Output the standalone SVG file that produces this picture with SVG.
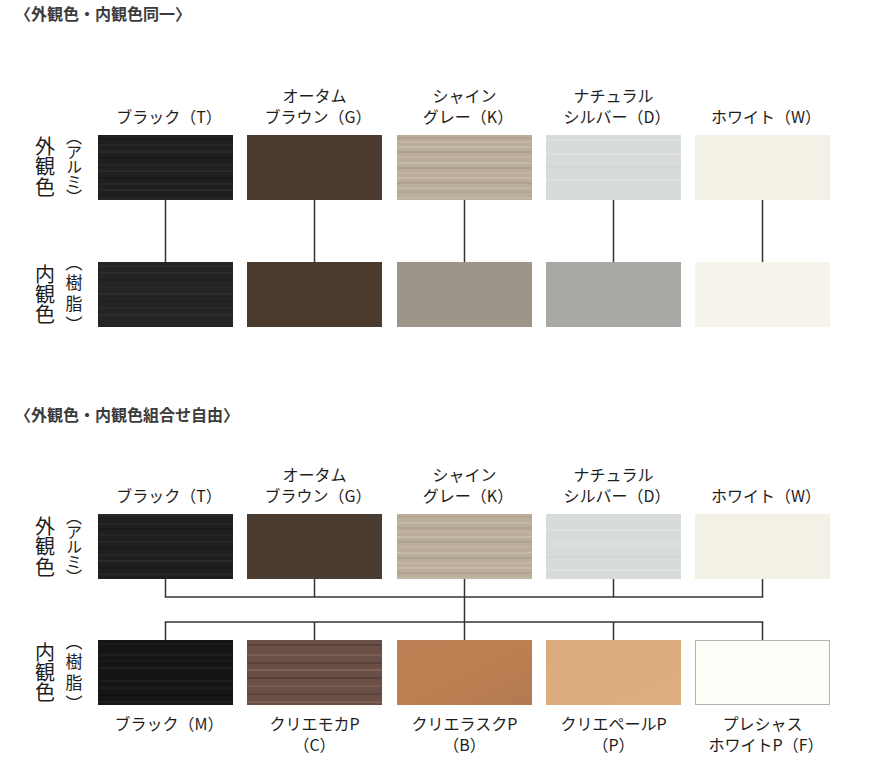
<svg xmlns="http://www.w3.org/2000/svg" width="872" height="778" viewBox="0 0 872 778">
<style>
text{font-family:"Noto Sans CJK JP","Noto Sans",sans-serif;fill:#1e1e1e}
.h{font-size:16px;font-weight:700;fill:#3c3c3c}
.lb{font-size:16px;text-anchor:middle}
.side{font-size:20px;writing-mode:vertical-rl;letter-spacing:0.5px}
.sub{font-size:16px;writing-mode:vertical-rl;font-feature-settings:"vpal"}
.sub2{font-size:17px;writing-mode:vertical-rl;font-feature-settings:"vpal";letter-spacing:4px}
.conn line{stroke:#333;stroke-width:1.5}
</style>
<defs>
<pattern id="pBlack" patternUnits="userSpaceOnUse" width="135" height="65">
<rect width="135" height="65" fill="#1e1f1f"/>
<g stroke-width="1">
<line x1="0" y1="4" x2="135" y2="4" stroke="#2e2f2f"/>
<line x1="0" y1="9" x2="135" y2="9" stroke="#141515"/>
<line x1="0" y1="15" x2="135" y2="15" stroke="#2a2b2b"/>
<line x1="0" y1="22" x2="135" y2="22" stroke="#303131"/>
<line x1="0" y1="28" x2="135" y2="28" stroke="#151616"/>
<line x1="0" y1="35" x2="135" y2="35" stroke="#2b2c2c"/>
<line x1="0" y1="41" x2="135" y2="41" stroke="#323333"/>
<line x1="0" y1="48" x2="135" y2="48" stroke="#141515"/>
<line x1="0" y1="54" x2="135" y2="54" stroke="#2c2d2d"/>
<line x1="0" y1="60" x2="135" y2="60" stroke="#2f3030"/>
</g>
</pattern>
<pattern id="pBlackI" patternUnits="userSpaceOnUse" width="135" height="65">
<rect width="135" height="65" fill="#232424"/>
<g stroke-width="1">
<line x1="0" y1="6" x2="135" y2="6" stroke="#2e2f2f"/>
<line x1="0" y1="13" x2="135" y2="13" stroke="#303131"/>
<line x1="0" y1="20" x2="135" y2="20" stroke="#1a1b1b"/>
<line x1="0" y1="27" x2="135" y2="27" stroke="#2d2e2e"/>
<line x1="0" y1="34" x2="135" y2="34" stroke="#303131"/>
<line x1="0" y1="41" x2="135" y2="41" stroke="#1a1b1b"/>
<line x1="0" y1="48" x2="135" y2="48" stroke="#2d2e2e"/>
<line x1="0" y1="55" x2="135" y2="55" stroke="#303131"/>
</g>
</pattern>
<pattern id="pBlackM" patternUnits="userSpaceOnUse" width="135" height="65">
<rect width="135" height="65" fill="#141515"/>
<g stroke-width="1">
<line x1="0" y1="5" x2="135" y2="5" stroke="#242525"/>
<line x1="0" y1="11" x2="135" y2="11" stroke="#1e1f1f"/>
<line x1="0" y1="18" x2="135" y2="18" stroke="#262727"/>
<line x1="0" y1="25" x2="135" y2="25" stroke="#0e0f0f"/>
<line x1="0" y1="31" x2="135" y2="31" stroke="#232424"/>
<line x1="0" y1="38" x2="135" y2="38" stroke="#262727"/>
<line x1="0" y1="45" x2="135" y2="45" stroke="#0e0f0f"/>
<line x1="0" y1="52" x2="135" y2="52" stroke="#242525"/>
<line x1="0" y1="59" x2="135" y2="59" stroke="#1f2020"/>
</g>
</pattern>
<pattern id="pGray" patternUnits="userSpaceOnUse" width="135" height="65">
<rect width="135" height="65" fill="#baad9a"/>
<g stroke-width="1">
<line x1="0" y1="3" x2="135" y2="3" stroke="#cdc1b0"/>
<line x1="0" y1="8" x2="135" y2="8" stroke="#a59784"/>
<line x1="0" y1="12" x2="135" y2="12" stroke="#c9bdab"/>
<line x1="0" y1="17" x2="135" y2="17" stroke="#d2c7b6"/>
<line x1="0" y1="22" x2="135" y2="22" stroke="#a39581"/>
<line x1="0" y1="27" x2="135" y2="27" stroke="#c8bcaa"/>
<line x1="0" y1="33" x2="135" y2="33" stroke="#d0c5b4"/>
<line x1="0" y1="38" x2="135" y2="38" stroke="#9f917d"/>
<line x1="0" y1="43" x2="135" y2="43" stroke="#c9bdab"/>
<line x1="0" y1="48" x2="135" y2="48" stroke="#d3c8b8"/>
<line x1="0" y1="53" x2="135" y2="53" stroke="#a69885"/>
<line x1="0" y1="58" x2="135" y2="58" stroke="#cbbfae"/>
<line x1="0" y1="62" x2="135" y2="62" stroke="#ab9d8a"/>
</g>
</pattern>
<pattern id="pSilver" patternUnits="userSpaceOnUse" width="135" height="65">
<rect width="135" height="65" fill="#d8dbdc"/>
<g stroke-width="1">
<line x1="0" y1="10" x2="135" y2="10" stroke="#e3e5e6"/>
<line x1="0" y1="24" x2="135" y2="24" stroke="#e2e4e5"/>
<line x1="0" y1="37" x2="135" y2="37" stroke="#ced1d2"/>
<line x1="0" y1="50" x2="135" y2="50" stroke="#e3e5e6"/>
</g>
</pattern>
<pattern id="pMocha" patternUnits="userSpaceOnUse" width="135" height="65">
<rect width="135" height="65" fill="#6a4f47"/>
<g stroke-width="2">
<line x1="0" y1="5" x2="135" y2="5" stroke="#7a5e55"/>
<line x1="0" y1="13" x2="135" y2="13" stroke="#5c423a"/>
<line x1="0" y1="20" x2="135" y2="20" stroke="#7d6158"/>
<line x1="0" y1="28" x2="135" y2="28" stroke="#5a4038"/>
<line x1="0" y1="36" x2="135" y2="36" stroke="#785c53"/>
<line x1="0" y1="44" x2="135" y2="44" stroke="#5d433b"/>
<line x1="0" y1="52" x2="135" y2="52" stroke="#7b5f56"/>
<line x1="0" y1="60" x2="135" y2="60" stroke="#5b4139"/>
</g>
</pattern>
<linearGradient id="gRusk" x1="0" y1="0" x2="1" y2="1">
<stop offset="0" stop-color="#bb8155"/>
<stop offset="0.5" stop-color="#bd7f50"/>
<stop offset="1" stop-color="#b27a52"/>
</linearGradient>
<linearGradient id="gPale" x1="0" y1="0" x2="1" y2="1">
<stop offset="0" stop-color="#d9ab7d"/>
<stop offset="1" stop-color="#dcae80"/>
</linearGradient>
</defs>

<text class="h" x="15" y="20">〈外観色・内観色同一〉</text>
<text class="h" x="15" y="421">〈外観色・内観色組合せ自由〉</text>

<g id="side-labels">
<text class="side" x="45" y="136">外観色</text>
<text class="sub" x="74" y="136">（アルミ）</text>
<text class="side" x="45" y="264" style="letter-spacing:0">内観色</text>
<text class="sub2" x="74" y="262">（樹脂）</text>

<text class="side" x="45" y="516">外観色</text>
<text class="sub" x="74" y="516">（アルミ）</text>
<text class="side" x="45" y="642" style="letter-spacing:0">内観色</text>
<text class="sub2" x="74" y="641">（樹脂）</text>
</g>

<g class="conn" id="connectors">
<line x1="165.5" y1="200" x2="165.5" y2="262"/>
<line x1="314.5" y1="200" x2="314.5" y2="262"/>
<line x1="464.5" y1="200" x2="464.5" y2="262"/>
<line x1="613.5" y1="200" x2="613.5" y2="262"/>
<line x1="762.5" y1="200" x2="762.5" y2="262"/>

<line x1="165.5" y1="579" x2="165.5" y2="597"/>
<line x1="314.5" y1="579" x2="314.5" y2="597"/>
<line x1="613.5" y1="579" x2="613.5" y2="597"/>
<line x1="762.5" y1="579" x2="762.5" y2="597"/>
<line x1="164.75" y1="597" x2="763.25" y2="597"/>
<line x1="464.5" y1="579" x2="464.5" y2="640"/>
<line x1="164.75" y1="622" x2="763.25" y2="622"/>
<line x1="165.5" y1="622" x2="165.5" y2="640"/>
<line x1="314.5" y1="622" x2="314.5" y2="640"/>
<line x1="613.5" y1="622" x2="613.5" y2="640"/>
<line x1="762.5" y1="622" x2="762.5" y2="640"/>
</g>

<!-- Section 1 -->
<g id="s1-black">
<text class="lb" x="169" y="123">ブラック（T）</text>
<rect x="98" y="135" width="135" height="65" fill="url(#pBlack)"/>
<rect x="98" y="262" width="135" height="65" fill="url(#pBlackI)"/>
</g>
<g id="s1-autumn">
<text class="lb"><tspan x="314.5" y="102">オータム</tspan><tspan x="318" y="123">ブラウン（G）</tspan></text>
<rect x="247" y="135" width="135" height="65" fill="#4a3a2f"/>
<rect x="247" y="262" width="135" height="65" fill="#4b3b2f"/>
</g>
<g id="s1-shine">
<text class="lb"><tspan x="464.5" y="102">シャイン</tspan><tspan x="468" y="123">グレー（K）</tspan></text>
<rect x="397" y="135" width="135" height="65" fill="url(#pGray)"/>
<rect x="397" y="262" width="135" height="65" fill="#9d9589"/>
</g>
<g id="s1-silver">
<text class="lb"><tspan x="613.5" y="102">ナチュラル</tspan><tspan x="617" y="123">シルバー（D）</tspan></text>
<rect x="546" y="135" width="135" height="65" fill="url(#pSilver)"/>
<rect x="546" y="262" width="135" height="65" fill="#a9a8a5"/>
</g>
<g id="s1-white">
<text class="lb" x="766" y="123">ホワイト（W）</text>
<rect x="695" y="135" width="135" height="65" fill="#f3f0e5"/>
<rect x="695" y="262" width="135" height="65" fill="#f5f3ea"/>
</g>

<!-- Section 2 exterior -->
<g id="s2-ext-black">
<text class="lb" x="169" y="502">ブラック（T）</text>
<rect x="98" y="514" width="135" height="65" fill="url(#pBlack)"/>
</g>
<g id="s2-ext-autumn">
<text class="lb"><tspan x="314.5" y="481">オータム</tspan><tspan x="318" y="502">ブラウン（G）</tspan></text>
<rect x="247" y="514" width="135" height="65" fill="#4b3c31"/>
</g>
<g id="s2-ext-shine">
<text class="lb"><tspan x="464.5" y="481">シャイン</tspan><tspan x="468" y="502">グレー（K）</tspan></text>
<rect x="397" y="514" width="135" height="65" fill="url(#pGray)"/>
</g>
<g id="s2-ext-silver">
<text class="lb"><tspan x="613.5" y="481">ナチュラル</tspan><tspan x="617" y="502">シルバー（D）</tspan></text>
<rect x="546" y="514" width="135" height="65" fill="url(#pSilver)"/>
</g>
<g id="s2-ext-white">
<text class="lb" x="766" y="502">ホワイト（W）</text>
<rect x="695" y="514" width="135" height="65" fill="#f3f0e5"/>
</g>

<!-- Section 2 interior -->
<g id="s2-int-black">
<rect x="98" y="640" width="135" height="65" fill="url(#pBlackM)"/>
<text class="lb" x="169" y="730">ブラック（M）</text>
</g>
<g id="s2-int-mocha">
<rect x="247" y="640" width="135" height="65" fill="url(#pMocha)"/>
<text class="lb"><tspan x="314.5" y="730">クリエモカP</tspan><tspan x="314.5" y="751">（C）</tspan></text>
</g>
<g id="s2-int-rusk">
<rect x="397" y="640" width="135" height="65" fill="url(#gRusk)"/>
<text class="lb"><tspan x="464.5" y="730">クリエラスクP</tspan><tspan x="464.5" y="751">（B）</tspan></text>
</g>
<g id="s2-int-pale">
<rect x="546" y="640" width="135" height="65" fill="url(#gPale)"/>
<text class="lb"><tspan x="613.5" y="730">クリエペールP</tspan><tspan x="613.5" y="751">（P）</tspan></text>
</g>
<g id="s2-int-precious">
<rect x="695.5" y="640.5" width="134" height="64" fill="#fffdf8" stroke="#b3b3b3" stroke-width="1"/>
<text class="lb"><tspan x="762.5" y="730">プレシャス</tspan><tspan x="766" y="751">ホワイトP（F）</tspan></text>
</g>
</svg>
